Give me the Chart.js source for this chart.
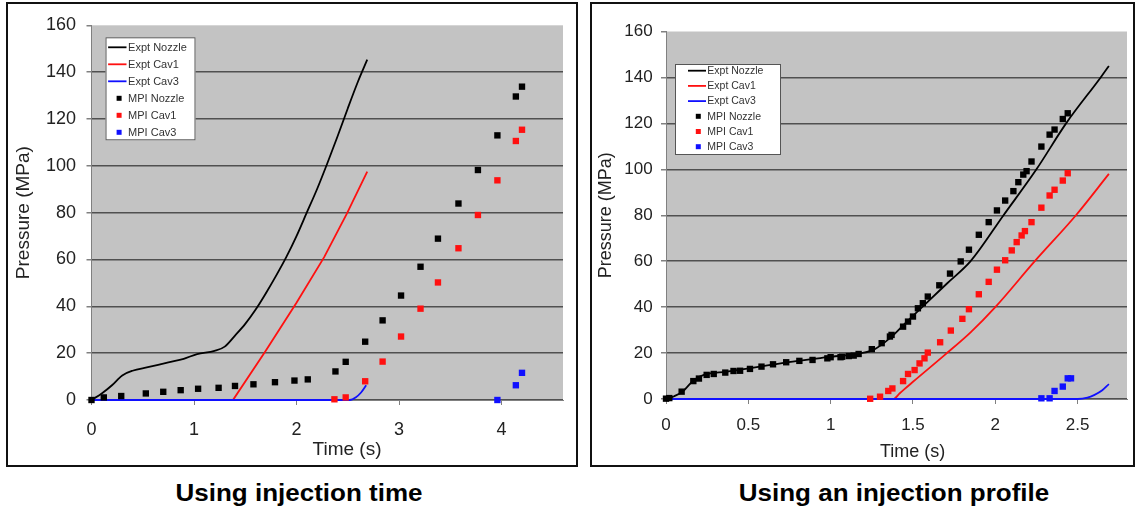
<!DOCTYPE html>
<html><head><meta charset="utf-8">
<script src="https://cdn.jsdelivr.net/npm/chart.js@4.4.1/dist/chart.umd.min.js"></script>
<style>
html,body{margin:0;padding:0;background:#fff;width:1135px;height:510px;overflow:hidden;font-family:"Liberation Sans",Arial,sans-serif;}
.frame{position:absolute;box-sizing:border-box;border:2px solid #111;background:#fff;}
#f1{left:6px;top:2px;width:572px;height:465px;}
#f2{left:590px;top:2px;width:545px;height:465px;}
canvas{position:absolute;left:0;top:0;}
.cap{position:absolute;top:481px;font-weight:bold;font-size:23px;line-height:24px;color:#000;white-space:nowrap;transform:translateX(-50%) scaleX(1.13);}
</style></head>
<body>
<div class="frame" id="f1"><canvas id="c1" width="568" height="461"></canvas></div>
<div class="frame" id="f2"><canvas id="c2" width="541" height="461"></canvas></div>
<div class="cap" style="left:299px">Using injection time</div>
<div class="cap" style="left:894px">Using an injection profile</div>
<script>
// ---------- data ----------
const seriesNames = ['Expt Nozzle', 'Expt Cav1', 'Expt Cav3', 'MPI Nozzle', 'MPI Cav1', 'MPI Cav3'];
const yTicks = [0, 20, 40, 60, 80, 100, 120, 140, 160];
const leftXTicks = [0, 1, 2, 3, 4];
const rightXTicks = [0, 0.5, 1, 1.5, 2, 2.5];

// Left chart: "Using injection time"
const leftExptNozzleT = [0, 0.1, 0.2, 0.3, 0.4, 0.55, 0.75, 0.9, 1.03, 1.2, 1.3, 1.4, 1.5, 1.6, 1.7, 1.8, 1.9, 2.0, 2.1, 2.2, 2.3, 2.4, 2.5, 2.6, 2.69];
const leftExptNozzleP = [0, 2.8, 6.3, 10.5, 12.5, 14, 16.1, 17.6, 19.6, 21, 22.8, 27.5, 32.5, 38.5, 45.5, 53, 61, 70, 80, 90, 101, 112.5, 124.5, 136, 145.3];
const leftExptCav1T = [0, 1.38, 1.7, 2.0, 2.27, 2.49, 2.69];
const leftExptCav1P = [0, 0, 21, 41.5, 61, 79.5, 97.5];
const leftExptCav3T = [0, 2.52, 2.58, 2.63, 2.68];
const leftExptCav3P = [0, 0, 1.2, 3.2, 6.3];
const leftMpiNozzleT = [0, 0.12, 0.29, 0.53, 0.7, 0.87, 1.04, 1.24, 1.4, 1.58, 1.79, 1.98, 2.11, 2.38, 2.48, 2.67, 2.84, 3.02, 3.21, 3.38, 3.58, 3.77, 3.96, 4.14, 4.2];
const leftMpiNozzleP = [0, 1.1, 1.7, 2.8, 3.5, 4.2, 4.8, 5.2, 6.0, 6.7, 7.6, 8.3, 8.8, 12.2, 16.3, 24.9, 34, 44.6, 56.9, 68.9, 83.9, 98.2, 113, 129.6, 133.8];
const leftMpiCav1T = [2.37, 2.48, 2.67, 2.84, 3.02, 3.21, 3.38, 3.58, 3.77, 3.96, 4.14, 4.2];
const leftMpiCav1P = [0.3, 1.1, 8.0, 16.4, 27.1, 39, 50.2, 64.8, 79, 93.8, 110.6, 115.4];
const leftMpiCav3T = [3.96, 4.14, 4.2];
const leftMpiCav3P = [0, 6.3, 11.6];

// Right chart: "Using an injection profile"
const rightExptNozzleT = [0, 0.05, 0.1, 0.17, 0.23, 0.37, 0.57, 0.77, 0.98, 1.18, 1.26, 1.36, 1.46, 1.57, 1.71, 1.85, 2.05, 2.25, 2.43, 2.64, 2.69];
const rightExptNozzleP = [0, 1.2, 3.2, 8.3, 10.5, 11.9, 14.1, 16.3, 18.2, 19.9, 21.4, 26.5, 33.5, 41, 50.5, 60, 80, 100, 120, 140, 145];
const rightExptCav1T = [0, 1.38, 1.42, 1.5, 1.69, 1.85, 2.0, 2.24, 2.49, 2.69];
const rightExptCav1P = [0, 0, 2.5, 7.5, 19, 29, 40, 60, 80, 98];
const rightExptCav3T = [0, 2.5, 2.56, 2.6, 2.65, 2.69];
const rightExptCav3P = [0, 0, 0.6, 1.7, 3.8, 6.5];
const rightMpiNozzleT = [0, 0.02, 0.095, 0.166, 0.2, 0.247, 0.29, 0.36, 0.41, 0.45, 0.51, 0.58, 0.65, 0.73, 0.81, 0.89, 0.98, 1.0, 1.06, 1.07, 1.11, 1.14, 1.17, 1.25, 1.31, 1.36, 1.37, 1.44, 1.47, 1.5, 1.53, 1.56, 1.59, 1.66, 1.725, 1.79, 1.84, 1.9, 1.96, 2.01, 2.06, 2.11, 2.14, 2.17, 2.19, 2.22, 2.28, 2.33, 2.36, 2.41, 2.44];
const rightMpiNozzleP = [0.15, 0.4, 3.2, 7.8, 8.9, 10.5, 10.9, 11.5, 12.2, 12.3, 13.1, 14.1, 15.1, 16, 16.6, 17, 17.7, 18.2, 18.2, 18.4, 18.7, 18.9, 19.6, 21.7, 24.3, 27.2, 27.9, 31.5, 33.7, 35.9, 39.5, 41.7, 44.6, 49.5, 54.6, 59.9, 65, 71.5, 77, 82.1, 86.4, 90.5, 94.4, 97.7, 99.2, 103.4, 109.9, 115.1, 117.3, 121.9, 124.4];
const rightMpiCav1T = [1.24, 1.30, 1.35, 1.375, 1.44, 1.47, 1.51, 1.54, 1.57, 1.59, 1.665, 1.73, 1.80, 1.84, 1.90, 1.96, 2.01, 2.06, 2.10, 2.13, 2.16, 2.18, 2.22, 2.28, 2.33, 2.36, 2.41, 2.44];
const rightMpiCav1P = [0.1, 1.0, 3.5, 4.6, 7.8, 10.9, 12.6, 15.5, 17.7, 20.2, 24.7, 29.8, 34.9, 39.1, 45.6, 51, 56.3, 60.4, 64.7, 68.3, 71.2, 73.1, 77, 83.3, 88.6, 91.1, 95.1, 98.3];
const rightMpiCav3T = [2.28, 2.33, 2.36, 2.41, 2.44, 2.46];
const rightMpiCav3P = [0.3, 0.3, 3.5, 5.4, 9, 9];

// ---------- helpers ----------
const FAMILY = '"Liberation Sans", Arial, Helvetica, sans-serif';
Chart.defaults.font.family = FAMILY;
const BLACK = '#000000', RED = '#ff1010', BLUE = '#1010ff';

function pts(T, P) { return T.map((t, i) => ({x: t, y: P[i]})); }
function lineDs(label, T, P, color, order, smooth) {
  const ds = {label, data: pts(T, P), kind: 'line', borderColor: color, backgroundColor: color,
    borderWidth: 1.8, pointRadius: 0, pointHoverRadius: 0, showLine: true, fill: false,
    clip: false, order};
  if (smooth) ds.cubicInterpolationMode = 'monotone'; else ds.tension = 0;
  return ds;
}
function dotDs(label, T, P, color, order) {
  return {label, data: pts(T, P), kind: 'dot', borderColor: color, backgroundColor: color,
    showLine: false, pointStyle: 'rect', pointRadius: 4.5, pointHoverRadius: 4.5, pointBorderWidth: 0,
    clip: false, order};
}

const plotBg = {
  id: 'plotBg',
  beforeDraw(chart, args, o) {
    const a = chart.chartArea, c = chart.ctx;
    c.save(); c.fillStyle = o.color; c.fillRect(a.left, a.top, a.right - a.left, a.bottom - a.top); c.restore();
  }
};
const insideLegend = {
  id: 'insideLegend',
  afterDatasetsDraw(chart, args, o) {
    const c = chart.ctx, a = chart.chartArea;
    const x0 = a.left + o.dx, y0 = a.top + o.dy;
    c.save();
    c.fillStyle = '#ffffff'; c.fillRect(x0, y0, o.w, o.h);
    c.strokeStyle = '#555'; c.lineWidth = 1; c.strokeRect(x0 + 0.5, y0 + 0.5, o.w - 1, o.h - 1);
    c.font = o.fontSize + 'px ' + FAMILY;
    c.textBaseline = 'middle'; c.textAlign = 'left';
    chart.data.datasets.forEach((ds, i) => {
      const y = y0 + o.firstRow + i * o.rowH;
      if (ds.kind === 'line') {
        c.strokeStyle = ds.borderColor; c.lineWidth = 1.8;
        c.beginPath(); c.moveTo(x0 + o.lineX0, y); c.lineTo(x0 + o.lineX1, y); c.stroke();
      } else {
        c.fillStyle = ds.backgroundColor; c.fillRect(x0 + o.markX - 2.5, y - 2.5, 5, 5);
      }
      c.fillStyle = '#333'; c.fillText(ds.label, x0 + o.textX, y + 0.5);
    });
    c.restore();
  }
};
const xTitle = {
  id: 'xTitle',
  afterDraw(chart, args, o) {
    const a = chart.chartArea, c = chart.ctx;
    c.save(); c.font = o.size + 'px ' + FAMILY; c.fillStyle = '#222';
    c.textAlign = 'center'; c.textBaseline = 'middle';
    c.fillText(o.text, a.left + o.dx, a.bottom + o.dy); c.restore();
  }
};

function makeChart(id, sets, xTicks, xMax, L) {
  const datasets = [
    lineDs(seriesNames[0], sets[0][0], sets[0][1], BLACK, 6, true),
    lineDs(seriesNames[1], sets[1][0], sets[1][1], RED, 5, L.smoothCav1),
    lineDs(seriesNames[2], sets[2][0], sets[2][1], BLUE, 4, true),
    dotDs(seriesNames[3], sets[3][0], sets[3][1], BLACK, 3),
    dotDs(seriesNames[4], sets[4][0], sets[4][1], RED, 2),
    dotDs(seriesNames[5], sets[5][0], sets[5][1], BLUE, 1)
  ];
  return new Chart(document.getElementById(id), {
    type: 'line',
    data: {datasets},
    plugins: [plotBg, insideLegend, xTitle],
    options: {
      responsive: false, animation: false, devicePixelRatio: 1, events: [],
      layout: {padding: L.pad},
      plugins: {
        legend: {display: false}, tooltip: {enabled: false},
        plotBg: {color: '#c3c3c3'},
        insideLegend: L.legend,
        xTitle: {text: 'Time (s)', size: L.titleSize, dx: L.xTitleDx, dy: L.xTitleDy}
      },
      scales: {
        x: {
          type: 'linear', min: 0, max: xMax,
          afterBuildTicks: s => { s.ticks = xTicks.map(v => ({value: v})); },
          afterFit: s => { s.height = L.xHeight; },
          grid: {drawOnChartArea: false, drawTicks: true, tickLength: 5, tickColor: '#808080'},
          border: {display: true, color: '#808080', width: 1},
          ticks: {font: {size: L.tickSize}, color: '#222', padding: L.xTickPad, maxRotation: 0, autoSkip: false, callback: v => String(v)},
          title: {display: false}
        },
        y: {
          min: 0, max: 160,
          afterBuildTicks: s => { s.ticks = yTicks.map(v => ({value: v})); },
          afterFit: s => { s.width = L.yWidth; },
          grid: {color: c => (c.tick && c.tick.value === 160) ? 'rgba(0,0,0,0)' : '#505050', lineWidth: 1.5,
                 drawTicks: true, tickLength: 5, tickColor: '#808080'},
          border: {display: true, color: '#808080', width: 1},
          ticks: {font: {size: L.tickSize}, color: '#222', padding: L.yTickPad, autoSkip: false, callback: v => String(v)},
          title: {display: true, text: 'Pressure (MPa)', font: {size: L.titleSize}, color: '#222', padding: {top: L.yTitlePad, bottom: 0}}
        }
      }
    }
  });
}

makeChart('c1', [
  [leftExptNozzleT, leftExptNozzleP], [leftExptCav1T, leftExptCav1P], [leftExptCav3T, leftExptCav3P],
  [leftMpiNozzleT, leftMpiNozzleP], [leftMpiCav1T, leftMpiCav1P], [leftMpiCav3T, leftMpiCav3P]
], leftXTicks, 4.6, {
  pad: {left: 0, top: 16, right: 13, bottom: 0}, yWidth: 83.5, xHeight: 65, smoothCav1: false,
  tickSize: 18, titleSize: 19, yTickPad: 10.5, xTickPad: 14, yTitlePad: 4.6,
  xTitleDx: 255.5, xTitleDy: 50,
  legend: {dx: 14, dy: 12, w: 90, h: 103, firstRow: 10, rowH: 17, lineX0: 2.6, lineX1: 21, markX: 13.6, textX: 22.6, fontSize: 11}
});
makeChart('c2', [
  [rightExptNozzleT, rightExptNozzleP], [rightExptCav1T, rightExptCav1P], [rightExptCav3T, rightExptCav3P],
  [rightMpiNozzleT, rightMpiNozzleP], [rightMpiCav1T, rightMpiCav1P], [rightMpiCav3T, rightMpiCav3P]
], rightXTicks, 2.8, {
  pad: {left: 0, top: 27.5, right: 6, bottom: 0}, yWidth: 74, xHeight: 66, smoothCav1: true,
  tickSize: 17, titleSize: 18, yTickPad: 8.4, xTickPad: 11.3, yTitlePad: 3.7,
  xTitleDx: 246.7, xTitleDy: 53,
  legend: {dx: 9, dy: 32.5, w: 106, h: 91, firstRow: 6.7, rowH: 15.2, lineX0: 13, lineX1: 31, markX: 23.3, textX: 32.3, fontSize: 10.5}
});
</script>
</body></html>
